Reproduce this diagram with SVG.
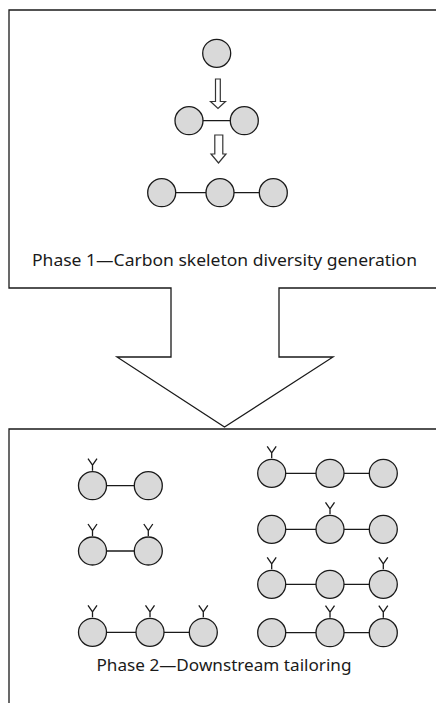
<svg xmlns="http://www.w3.org/2000/svg" width="436" height="703" viewBox="0 0 436 703">
<style>
.box{fill:none;stroke:#1a1a1a;stroke-width:1.3}
.c{fill:#d9d9d9;stroke:#1a1a1a;stroke-width:1.3}
.b{stroke:#1a1a1a;stroke-width:1.3;fill:none}
.y{stroke:#1a1a1a;stroke-width:1.3;fill:none;stroke-linejoin:miter}
.ar{fill:#fff;stroke:#333;stroke-width:1.2}
.t{font-family:"Noto Sans","DejaVu Sans",sans-serif;font-size:17px;fill:#1a1a1a}
</style>
<defs>
<path id="Y" d="M-4.5,-13 L0,-6.5 L4.5,-13 M0,-6.5 L0,-1" class="y"/>
</defs>
<g id="phase1-box">
<path class="box" d="M436,10 H9 V288 H171 V357 H117 L224.5,427 L333,357 H279 V288 H436"/>
<text class="t" x="224.5" y="266" text-anchor="middle" textLength="385" lengthAdjust="spacingAndGlyphs">Phase 1—Carbon skeleton diversity generation</text>
</g>
<g id="phase2-box">
<path class="box" d="M9,703 V429 H436"/>
<text class="t" x="224" y="671" text-anchor="middle" textLength="255" lengthAdjust="spacingAndGlyphs">Phase 2—Downstream tailoring</text>
</g>
<g id="connectors">
<path class="ar" d="M215.5,79 H220.3 V101.5 H225.5 L218,108.5 L210.5,101.5 H215.5 Z"/>
<path class="ar" d="M214.8,135 H222.8 V154 H226 L218.5,163 L211,154 H214.8 Z"/>
<line class="b" x1="189" y1="120.7" x2="244.3" y2="120.7"/>
<line class="b" x1="161.7" y1="192.7" x2="273.3" y2="192.7"/>
<line class="b" x1="92.5" y1="485.7" x2="148.3" y2="485.7"/>
<line class="b" x1="92.5" y1="551" x2="148.3" y2="551"/>
<line class="b" x1="92.5" y1="632.3" x2="203.3" y2="632.3"/>
<line class="b" x1="271.7" y1="473.3" x2="383.3" y2="473.3"/>
<line class="b" x1="271.7" y1="529.3" x2="383.3" y2="529.3"/>
<line class="b" x1="271.7" y1="584.3" x2="383.3" y2="584.3"/>
<line class="b" x1="271.7" y1="632.7" x2="383.3" y2="632.7"/>
</g>
<g id="p1-mono"><circle class="c" cx="216.7" cy="53.3" r="14"/></g>
<g id="p1-di"><circle class="c" cx="189" cy="120.7" r="14"/><circle class="c" cx="244.3" cy="120.7" r="14"/></g>
<g id="p1-tri"><circle class="c" cx="161.7" cy="192.7" r="14"/><circle class="c" cx="220" cy="192.7" r="14"/><circle class="c" cx="273.3" cy="192.7" r="14"/></g>
<g id="p2-l1">
<circle class="c" cx="92.5" cy="485.7" r="14"/><circle class="c" cx="148.3" cy="485.7" r="14"/>
<use href="#Y" x="92.5" y="471.7"/>
</g>
<g id="p2-l2">
<circle class="c" cx="92.5" cy="551" r="14"/><circle class="c" cx="148.3" cy="551" r="14"/>
<use href="#Y" x="92.5" y="537"/><use href="#Y" x="148.3" y="537"/>
</g>
<g id="p2-l3">
<circle class="c" cx="92.5" cy="632.3" r="14"/><circle class="c" cx="150" cy="632.3" r="14"/><circle class="c" cx="203.3" cy="632.3" r="14"/>
<use href="#Y" x="92.5" y="618.3"/><use href="#Y" x="150" y="618.3"/><use href="#Y" x="203.3" y="618.3"/>
</g>
<g id="p2-r1">
<circle class="c" cx="271.7" cy="473.3" r="14"/><circle class="c" cx="330" cy="473.3" r="14"/><circle class="c" cx="383.3" cy="473.3" r="14"/>
<use href="#Y" x="271.7" y="459.3"/>
</g>
<g id="p2-r2">
<circle class="c" cx="271.7" cy="529.3" r="14"/><circle class="c" cx="330" cy="529.3" r="14"/><circle class="c" cx="383.3" cy="529.3" r="14"/>
<use href="#Y" x="330" y="515.3"/>
</g>
<g id="p2-r3">
<circle class="c" cx="271.7" cy="584.3" r="14"/><circle class="c" cx="330" cy="584.3" r="14"/><circle class="c" cx="383.3" cy="584.3" r="14"/>
<use href="#Y" x="271.7" y="570.3"/><use href="#Y" x="383.3" y="570.3"/>
</g>
<g id="p2-r4">
<circle class="c" cx="271.7" cy="632.7" r="14"/><circle class="c" cx="330" cy="632.7" r="14"/><circle class="c" cx="383.3" cy="632.7" r="14"/>
<use href="#Y" x="330" y="618.7"/><use href="#Y" x="383.3" y="618.7"/>
</g>
</svg>
